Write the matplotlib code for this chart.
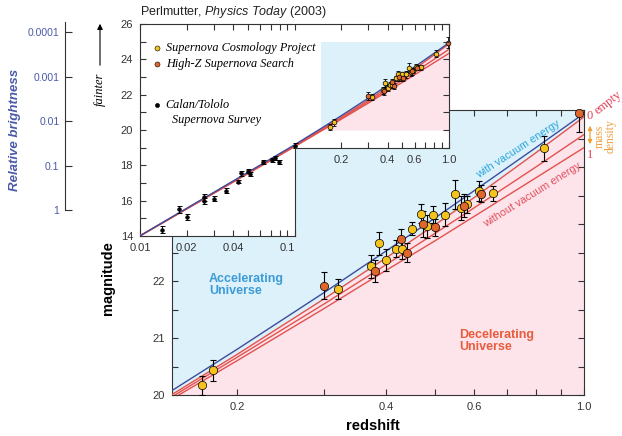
"""Supernova Hubble diagram: magnitude against redshift, with a low-z inset."""
import matplotlib
matplotlib.use("Agg")
import matplotlib.pyplot as plt
import numpy as np
from matplotlib.patches import FancyArrowPatch
from matplotlib.ticker import FixedLocator, MultipleLocator, NullFormatter

plt.rcParams["font.family"] = ["Liberation Sans", "DejaVu Sans"]
plt.rcParams["mathtext.fontset"] = "custom"
plt.rcParams["mathtext.rm"] = "Liberation Sans"
plt.rcParams["mathtext.it"] = "Liberation Sans:italic"

W, H = 622, 436

# Supernova Cosmology Project
scp_z = [0.170, 0.179, 0.319, 0.372, 0.387, 0.400, 0.418, 0.430, 0.451, 0.470,
         0.482, 0.496, 0.526, 0.550, 0.566, 0.581, 0.615, 0.655, 0.830]
scp_mag = [20.17, 20.43, 21.86, 22.26, 22.66, 22.37, 22.57, 22.57, 22.92, 23.18,
           22.96, 23.16, 23.16, 23.52, 23.28, 23.35, 23.58, 23.54, 24.33]
scp_err = [0.17, 0.18, 0.18, 0.20, 0.20, 0.19, 0.15, 0.18, 0.12, 0.17,
           0.20, 0.15, 0.20, 0.25, 0.21, 0.15, 0.17, 0.13, 0.22]

# High-Z Supernova Search
hiz_z = [0.300, 0.380, 0.428, 0.440, 0.475, 0.501, 0.574, 0.620, 0.978]
hiz_mag = [21.92, 22.18, 22.74, 22.50, 23.00, 22.94, 23.32, 23.53, 24.94]
hiz_err = [0.24, 0.19, 0.17, 0.16, 0.22, 0.15, 0.20, 0.15, 0.32]

# Calan/Tololo survey (nearby)
ct_z = [0.0139, 0.0180, 0.0201, 0.0260, 0.0260, 0.0301, 0.0360, 0.0429,
        0.0449, 0.0498, 0.0515, 0.0628, 0.0712, 0.0748, 0.0790, 0.1012]
ct_mag = [14.35, 15.51, 15.07, 16.18, 15.97, 16.12, 16.55, 17.07,
          17.55, 17.68, 17.51, 18.19, 18.30, 18.40, 18.19, 19.12]
ct_err = [0.19, 0.18, 0.19, 0.18, 0.18, 0.15, 0.14, 0.08,
          0.14, 0.14, 0.12, 0.12, 0.12, 0.12, 0.12, 0.13]

# model curves
model_z = [0.01, 0.1, 0.15, 0.2, 0.3, 0.4, 0.5, 0.6, 0.8, 1.0]
mag_vacuum = [14.01, 19.16, 20.11, 20.80, 21.80, 22.53, 23.10, 23.58, 24.34, 24.94]
mag_empty = [14.01, 19.11, 20.04, 20.71, 21.69, 22.41, 22.98, 23.46, 24.25, 24.88]
mag_half = [14.01, 19.08, 20.00, 20.66, 21.60, 22.29, 22.83, 23.28, 24.00, 24.57]
mag_full = [14.00, 19.05, 19.96, 20.60, 21.52, 22.19, 22.70, 23.13, 23.81, 24.34]

main_xticks = [0.2, 0.4, 0.6, 1.0]
main_xlabels = ["0.2", "0.4", "0.6", "1.0"]
main_xminor = [0.3, 0.5, 0.7, 0.8, 0.9]
inset_low_ticks = [0.01, 0.02, 0.04, 0.1]
inset_low_labels = ["0.01", "0.02", "0.04", "0.1"]
inset_low_minor = [0.03, 0.05, 0.06, 0.07, 0.08, 0.09]
bright_ticks = [1e-4, 1e-3, 1e-2, 1e-1, 1.0]
bright_labels = ["0.0001", "0.001", "0.01", "0.1", "1"]

SKY = "#ddf1fa"
ROSE = "#fde3ea"
GOLD = "#f4c31e"
RUST = "#e0672c"
NAVY = "#3d4c9e"
RED = "#e2524e"
SLATE = "#4a5aa8"
FRAME = "#333333"


def box(left, top, right, bottom):
    return [left / W, 1 - bottom / H, (right - left) / W, (bottom - top) / H]


def fx(x):
    return x / W


def fy(y):
    return 1 - y / H


def draw_points(ax, z, mag, err, color, ms, cap, lw):
    ax.errorbar(z, mag, yerr=err, fmt="none", ecolor="black", elinewidth=lw,
                capsize=cap, capthick=lw, zorder=4)
    ax.plot(z, mag, "o", mfc=color, mec="black", mew=0.5, ms=ms, zorder=5,
            clip_on=False)


def draw_models(ax):
    for mags, col in ((mag_full, RED), (mag_half, RED), (mag_empty, RED),
                      (mag_vacuum, NAVY)):
        ax.plot(model_z, mags, color=col, lw=1.0, zorder=3)


def main_panel(fig):
    ax = fig.add_axes(box(172, 110, 584, 395))
    ax.set_xscale("log")
    ax.set_xlim(0.148, 1.0)
    ax.set_ylim(20, 25)
    ax.set_facecolor(SKY)
    ax.fill_between(model_z, 19, mag_empty, color=ROSE, lw=0, zorder=1)
    draw_models(ax)
    draw_points(ax, scp_z, scp_mag, scp_err, GOLD, 6, 2.5, 0.8)
    draw_points(ax, hiz_z, hiz_mag, hiz_err, RUST, 6, 2.5, 0.8)

    ax.xaxis.set_major_locator(FixedLocator(main_xticks))
    ax.set_xticklabels(main_xlabels)
    ax.xaxis.set_minor_locator(FixedLocator(main_xminor))
    ax.xaxis.set_minor_formatter(NullFormatter())
    ax.yaxis.set_major_locator(MultipleLocator(1))
    ax.yaxis.set_minor_locator(MultipleLocator(0.5))
    ax.tick_params(which="both", direction="in", top=True, right=True,
                   length=4, width=0.8, labelsize=8, pad=5, colors=FRAME)
    for sp in ax.spines.values():
        sp.set_color(FRAME)

    fig.text(fx(209), fy(285), "Accelerating\nUniverse", fontsize=9,
             weight="bold", color="#3c9bd6", ha="left", va="center",
             linespacing=1.1)
    fig.text(fx(459), fy(341), "Decelerating\nUniverse", fontsize=9,
             weight="bold", color="#e65c3c", ha="left", va="center",
             linespacing=1.1)
    fig.text(fx(518), fy(149), "with vacuum energy", fontsize=7.8,
             color="#2aa5dc", rotation=33, ha="center", va="center",
             rotation_mode="anchor")
    fig.text(fx(532), fy(195), "without vacuum energy", fontsize=7.8,
             color="#e0505e", rotation=32, ha="center", va="center",
             rotation_mode="anchor")

    # mass-density scale at the right edge
    fig.text(fx(590), fy(116), "0", family="Liberation Serif", fontsize=9,
             color="#e0405a", ha="center", va="center")
    fig.text(fx(590), fy(155), "1", family="Liberation Serif", fontsize=9,
             color="#e0405a", ha="center", va="center")
    fig.text(fx(598), fy(115), "empty", family="Liberation Serif", fontsize=9,
             color="#e0405a", rotation=38, ha="left", va="baseline",
             rotation_mode="anchor")
    fig.text(fx(605), fy(136), "mass\ndensity", family="Liberation Serif",
             fontsize=8.5, color="#f0a040", rotation=90, ha="center",
             va="center", linespacing=0.85)
    fig.add_artist(FancyArrowPatch((fx(590), fy(123)), (fx(590), fy(147)),
                                   transform=fig.transFigure, arrowstyle="<|-|>",
                                   mutation_scale=6, lw=0.9, color="#f0a030"))

    fig.text(fx(373), fy(426), "redshift", fontsize=10.5, weight="bold",
             ha="center", va="center")
    fig.text(fx(108), fy(278), "magnitude", fontsize=10.5, weight="bold",
             rotation=90, ha="center", va="center")
    return ax


def inset_panel(fig):
    axi = fig.add_axes(box(140, 24, 449, 236))
    axi.set_xscale("log")
    axi.set_xlim(0.01, 1.0)
    axi.set_ylim(14, 26)
    axi.patch.set_visible(False)
    # stepped white card: the lower-right corner is cut away
    axi.fill([0.01, 0.1, 0.1, 1.0, 1.0, 0.01], [14, 14, 19, 19, 26, 26],
             color="white", lw=0, zorder=0)
    axi.fill_between([0.148, 1.0], 20, 25, color=SKY, lw=0, zorder=0.5)
    z = np.array(model_z)
    keep = z >= 0.15
    axi.fill_between(z[keep], 20, np.array(mag_empty)[keep], color=ROSE,
                     lw=0, zorder=0.6)
    draw_models(axi)
    draw_points(axi, ct_z, ct_mag, ct_err, "black", 2.6, 1.8, 0.7)
    draw_points(axi, scp_z, scp_mag, scp_err, GOLD, 3.4, 1.4, 0.6)
    draw_points(axi, hiz_z, hiz_mag, hiz_err, RUST, 3.4, 1.4, 0.6)

    axi.spines["bottom"].set_bounds(0.01, 0.1)
    axi.spines["right"].set_bounds(19, 26)
    for sp in axi.spines.values():
        sp.set_color(FRAME)
    axi.plot([0.1, 0.1], [14, 19], color=FRAME, lw=0.8, clip_on=False, zorder=6)

    axi.set_xticks(inset_low_ticks, labels=inset_low_labels)
    axi.get_xticklabels()[-1].set_horizontalalignment("right")
    axi.xaxis.set_minor_locator(FixedLocator(inset_low_minor))
    axi.xaxis.set_minor_formatter(NullFormatter())
    axi.yaxis.set_major_locator(MultipleLocator(2))
    axi.yaxis.set_minor_locator(MultipleLocator(1))
    axi.tick_params(which="both", direction="in", top=False, right=False,
                    length=4, width=0.8, labelsize=8, pad=5, colors=FRAME)

    # top ticks over the full range
    axt = axi.twiny()
    axt.set_xscale("log")
    axt.set_xlim(0.01, 1.0)
    axt.tick_params(which="both", direction="in", length=4, width=0.8,
                    labeltop=False, colors=FRAME)
    for sp in axt.spines.values():
        sp.set_visible(False)

    # right ticks only along the upper part of the card
    axr = axi.twinx()
    axr.set_ylim(14, 26)
    axr.yaxis.set_major_locator(FixedLocator([20, 22, 24, 26]))
    axr.yaxis.set_minor_locator(FixedLocator([19, 21, 23, 25]))
    axr.tick_params(which="both", direction="in", length=4, width=0.8,
                    labelright=False, colors=FRAME)
    for sp in axr.spines.values():
        sp.set_visible(False)

    # x axis along the step
    y_step = 236 - (19 - 14) / 12 * 212
    axs = fig.add_axes(box(294.5, y_step - 0.5, 449, y_step))
    axs.patch.set_visible(False)
    axs.set_xscale("log")
    axs.set_xlim(0.1, 1.0)
    axs.set_yticks([])
    for name, sp in axs.spines.items():
        sp.set_visible(name == "bottom")
        sp.set_color(FRAME)
    axs.xaxis.set_major_locator(FixedLocator(main_xticks))
    axs.set_xticklabels(main_xlabels)
    axs.xaxis.set_minor_locator(FixedLocator(main_xminor))
    axs.xaxis.set_minor_formatter(NullFormatter())
    axs.tick_params(which="both", direction="in", length=4, width=0.8,
                    labelsize=8, pad=5, colors=FRAME)

    # hand-made legend
    legend = [(0.887, GOLD, "Supernova Cosmology Project"),
              (0.811, RUST, "High-Z Supernova Search"),
              (0.618, "black", "Calan/Tololo")]
    for yy, col, label in legend:
        axi.plot([0.055], [yy], "o", mfc=col, mec="black", mew=0.4,
                 ms=3.6 if col != "black" else 3.0, transform=axi.transAxes,
                 clip_on=False, zorder=7)
        axi.text(0.083, yy, label, transform=axi.transAxes, fontsize=8.8,
                 family="Liberation Serif", style="italic", va="center",
                 ha="left")
    axi.text(0.104, 0.547, "Supernova Survey", transform=axi.transAxes,
             fontsize=8.8, family="Liberation Serif", style="italic",
             va="center", ha="left")

    fig.text(fx(140), fy(12), r"Perlmutter, $\mathit{Physics\ Today}$ (2003)",
             fontsize=9, color="#222222", ha="left", va="center")
    return axi


def brightness_scale(fig):
    axb = fig.add_axes(box(65, 22, 75, 210))
    axb.patch.set_visible(False)
    axb.set_yscale("log")
    axb.set_ylim(1.0, 10 ** -4.225)
    axb.set_xticks([])
    for name, sp in axb.spines.items():
        sp.set_visible(name == "left")
        sp.set_color(FRAME)
    axb.yaxis.set_major_locator(FixedLocator(bright_ticks))
    axb.set_yticklabels(bright_labels)
    axb.yaxis.set_minor_locator(FixedLocator([]))
    axb.tick_params(axis="y", direction="in", length=5, width=0.8,
                    labelsize=7.5, pad=4, color=FRAME, labelcolor=SLATE)

    fig.text(fx(15), fy(130), "Relative brightness", fontsize=9.5,
             weight="bold", style="italic", color=SLATE, rotation=90,
             ha="center", va="center")
    fig.text(fx(100), fy(89), "fainter", family="Liberation Serif",
             style="italic", fontsize=9, rotation=90, ha="center", va="center")
    fig.add_artist(FancyArrowPatch((fx(100), fy(68)), (fx(100), fy(21)),
                                   transform=fig.transFigure, arrowstyle="-|>",
                                   mutation_scale=8, lw=0.8, color="black"))


def main() -> None:
    fig = plt.figure(figsize=(W / 100, H / 100), dpi=100)
    main_panel(fig)
    inset_panel(fig)
    brightness_scale(fig)
    fig.savefig("out.png", dpi=100)
    plt.close(fig)


if __name__ == "__main__":
    main()
